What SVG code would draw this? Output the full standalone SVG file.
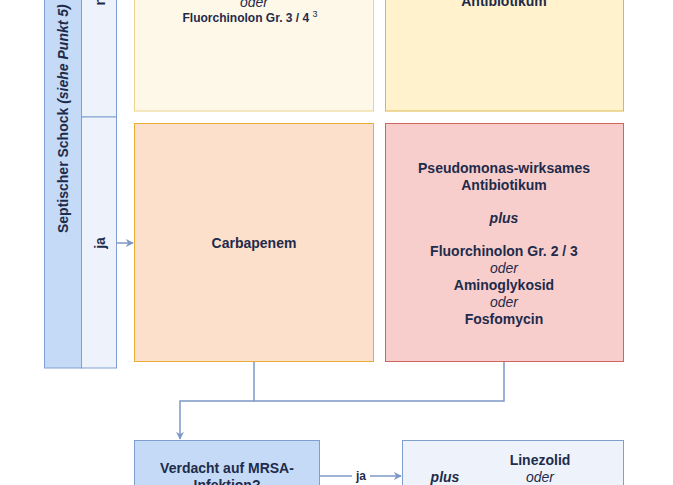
<svg xmlns="http://www.w3.org/2000/svg" width="673" height="485" viewBox="0 0 673 485">
<defs>
<style>
.t{font-family:"Liberation Sans",Arial,Helvetica,sans-serif;font-size:14px;fill:#1e2b4b;text-anchor:middle}
.b{font-weight:bold}
.i{font-style:italic}
.bi{font-weight:bold;font-style:italic}
.conn{fill:none;stroke:#7d98c6;stroke-width:1.5}
.blue{fill:#c5daf6;stroke:#7f9fd0;stroke-width:1}
.pale{fill:#eef3fb;stroke:#7f9fd0;stroke-width:1}
</style>
<marker id="ah" viewBox="0 0 10 10" refX="9" refY="5" markerWidth="8" markerHeight="8" markerUnits="userSpaceOnUse" orient="auto">
<path d="M0,0 L10,5 L0,10 L3,5 Z" fill="#7d98c6"/>
</marker>
</defs>
<rect width="673" height="485" fill="#ffffff"/>

<g id="septic-shock">
<rect class="blue" x="44.5" y="-150" width="37" height="518"/>
<text class="t b" transform="translate(68,233) rotate(-90)" style="text-anchor:start">Septischer Schock <tspan class="bi">(siehe Punkt 5)</tspan></text>
</g>
<g id="nein-cell">
<rect class="pale" x="81.5" y="-150" width="35" height="267"/>
<text class="t b" transform="translate(105,-9) rotate(-90)">nein</text>
</g>
<g id="ja-cell">
<rect class="pale" x="81.5" y="117" width="35" height="251"/>
<text class="t b" transform="translate(105,243) rotate(-90)">ja</text>
</g>

<g id="box-top-left">
<rect x="134.5" y="-130" width="239" height="241" fill="#fef8e9" stroke="#ebd38a"/>
<text class="t i" x="254" y="7">oder</text>
<text class="t b" x="250" y="22" style="font-size:12px">Fluorchinolon Gr. 3 / 4 <tspan style="font-size:9px;font-weight:normal" dy="-5">3</tspan></text>
</g>
<g id="box-top-right">
<rect x="385.5" y="-130" width="238" height="241" fill="#fff2cc" stroke="#dcb84a"/>
<text class="t b" x="504" y="6">Antibiotikum</text>
</g>

<g id="box-carbapenem">
<rect x="134.5" y="123.5" width="239" height="238" fill="#fde0cb" stroke="#e8ad38"/>
<text class="t b" x="254" y="248">Carbapenem</text>
</g>
<g id="box-pseudomonas">
<rect x="385.5" y="123.5" width="238" height="238" fill="#f8cecc" stroke="#d2645f"/>
<text class="t b" x="504" y="173">Pseudomonas-wirksames</text>
<text class="t b" x="504" y="190">Antibiotikum</text>
<text class="t bi" x="504" y="223">plus</text>
<text class="t b" x="504" y="256">Fluorchinolon Gr. 2 / 3</text>
<text class="t i" x="504" y="273">oder</text>
<text class="t b" x="504" y="290">Aminoglykosid</text>
<text class="t i" x="504" y="307">oder</text>
<text class="t b" x="504" y="324">Fosfomycin</text>
</g>

<g id="box-mrsa">
<rect class="blue" x="134.5" y="440.5" width="185" height="80"/>
<text class="t b" x="227" y="473">Verdacht auf MRSA-</text>
<text class="t b" x="227" y="490">Infektion?</text>
</g>
<g id="box-linezolid">
<rect class="pale" x="402.5" y="440.5" width="221" height="80"/>
<text class="t b" x="540" y="465">Linezolid</text>
<text class="t i" x="540" y="482">oder</text>
<text class="t bi" x="445" y="482">plus</text>
</g>

<g id="connectors">
<path class="conn" d="M116.5,243 L133,243" marker-end="url(#ah)"/>
<path class="conn" d="M254,362 L254,401 L180,401 L180,439" marker-end="url(#ah)"/>
<path class="conn" d="M504,362 L504,401 L254,401"/>
<path class="conn" d="M320,476 L401,476" marker-end="url(#ah)"/>
<rect x="352" y="468" width="18" height="14" fill="#ffffff"/>
<text class="t b" x="361" y="480" style="font-size:12px">ja</text>
</g>
</svg>
